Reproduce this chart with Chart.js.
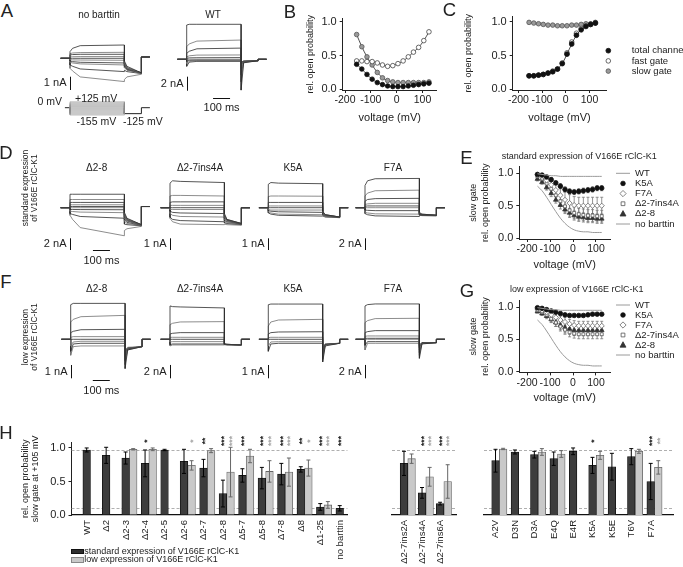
<!DOCTYPE html>
<html>
<head>
<meta charset="utf-8">
<script src="https://cdn.jsdelivr.net/npm/chart.js@4.4.1/dist/chart.umd.min.js"></script>
<style>
  body { margin: 0; background: #fff; }
  #fig { position: relative; width: 683px; height: 567px; overflow: hidden;
         font-family: "Liberation Sans", Arial, sans-serif; color: #222; }
  #fig canvas { position: absolute; }
  .t { position: absolute; white-space: nowrap; line-height: 1; }
  .key { position: absolute; }
</style>
</head>
<body>
<div id="fig"></div>
<script>
// ---------- data ----------
const voltages = [-155, -135, -115, -95, -75, -55, -35, -15, 5, 25, 45, 65, 85, 105, 125];
const voltTicks = [-200, -100, 0, 100];
const probTicks = [0, 0.5, 1];

// B: no barttin
const bTotal = [0.37, 0.30, 0.22, 0.15, 0.10, 0.07, 0.05, 0.04, 0.04, 0.04, 0.05, 0.06, 0.07, 0.08, 0.09];
const bFast  = [0.42, 0.42, 0.41, 0.41, 0.39, 0.36, 0.34, 0.35, 0.38, 0.42, 0.48, 0.55, 0.62, 0.72, 0.85];
const bSlow  = [0.81, 0.63, 0.48, 0.36, 0.25, 0.17, 0.13, 0.11, 0.10, 0.10, 0.10, 0.10, 0.10, 0.10, 0.11];
// C: WT
const cTotal = [0.20, 0.20, 0.21, 0.22, 0.24, 0.26, 0.30, 0.38, 0.52, 0.67, 0.80, 0.88, 0.93, 0.96, 0.98];
const cFast  = [0.20, 0.20, 0.21, 0.22, 0.24, 0.27, 0.30, 0.39, 0.54, 0.70, 0.83, 0.90, 0.94, 0.96, 0.98];
const cSlow  = [0.99, 0.98, 0.97, 0.96, 0.95, 0.95, 0.94, 0.94, 0.94, 0.95, 0.95, 0.96, 0.97, 0.97, 0.99];

// E/G reference curves (slow gate)
const wtSlow        = [0.99, 0.98, 0.97, 0.96, 0.96, 0.95, 0.95, 0.95, 0.95, 0.95, 0.95, 0.95, 0.95, 0.95, 0.95];
const noBarttinSlow = [0.80, 0.73, 0.63, 0.52, 0.41, 0.31, 0.23, 0.17, 0.13, 0.11, 0.10, 0.10, 0.09, 0.09, 0.09];
// E: standard expression
const eK5A   = [0.98, 0.97, 0.94, 0.90, 0.85, 0.80, 0.75, 0.72, 0.71, 0.72, 0.73, 0.74, 0.75, 0.77, 0.77];
const eF7A   = [0.97, 0.94, 0.89, 0.82, 0.74, 0.66, 0.59, 0.54, 0.51, 0.50, 0.50, 0.50, 0.50, 0.50, 0.50];
const eIns4A = [0.95, 0.91, 0.84, 0.76, 0.66, 0.57, 0.49, 0.43, 0.39, 0.37, 0.36, 0.35, 0.35, 0.34, 0.34];
const eD28   = [0.91, 0.86, 0.78, 0.69, 0.59, 0.51, 0.44, 0.39, 0.35, 0.33, 0.32, 0.31, 0.31, 0.30, 0.30];
const eK5Asd   = [0.02, 0.02, 0.03, 0.03, 0.03, 0.04, 0.04, 0.04, 0.04, 0.04, 0.04, 0.04, 0.04, 0.04, 0.04];
const eF7Asd   = [0.03, 0.04, 0.06, 0.08, 0.10, 0.11, 0.12, 0.13, 0.13, 0.13, 0.13, 0.13, 0.13, 0.13, 0.13];
const eIns4Asd = [0.03, 0.04, 0.05, 0.06, 0.07, 0.08, 0.09, 0.09, 0.09, 0.09, 0.09, 0.09, 0.09, 0.09, 0.09];
const eD28sd   = [0.03, 0.03, 0.04, 0.05, 0.05, 0.06, 0.06, 0.07, 0.07, 0.07, 0.07, 0.07, 0.07, 0.07, 0.07];
// G: low expression
const gK5A   = [0.99, 0.98, 0.96, 0.94, 0.92, 0.90, 0.88, 0.87, 0.87, 0.87, 0.87, 0.88, 0.89, 0.89, 0.89];
const gF7A   = [0.97, 0.95, 0.92, 0.88, 0.84, 0.80, 0.77, 0.74, 0.72, 0.71, 0.71, 0.71, 0.71, 0.71, 0.71];
const gIns4A = [0.95, 0.92, 0.88, 0.82, 0.76, 0.70, 0.65, 0.61, 0.59, 0.58, 0.58, 0.58, 0.58, 0.58, 0.58];
const gD28   = [0.93, 0.90, 0.86, 0.81, 0.76, 0.72, 0.68, 0.66, 0.64, 0.64, 0.64, 0.64, 0.64, 0.64, 0.64];
const gK5Asd   = [0.01, 0.01, 0.02, 0.02, 0.02, 0.02, 0.02, 0.02, 0.02, 0.02, 0.02, 0.02, 0.02, 0.02, 0.02];
const gF7Asd   = [0.02, 0.03, 0.04, 0.05, 0.06, 0.06, 0.07, 0.07, 0.07, 0.07, 0.07, 0.07, 0.07, 0.07, 0.07];
const gIns4Asd = [0.02, 0.03, 0.04, 0.05, 0.06, 0.07, 0.07, 0.07, 0.07, 0.07, 0.07, 0.07, 0.07, 0.07, 0.07];
const gD28sd   = [0.02, 0.03, 0.04, 0.05, 0.06, 0.07, 0.08, 0.08, 0.08, 0.08, 0.08, 0.08, 0.08, 0.08, 0.08];

// H: slow gate open probability at +105 mV
const hLeftCats = ['WT', '\u03942', '\u03942-3', '\u03942-4', '\u03942-5', '\u03942-6', '\u03942-7', '\u03942-8',
                   '\u03945-7', '\u03945-8', '\u03947-8', '\u03948', '\u03941-25', 'no barttin'];
const hLeftStd    = [0.97, 0.89, 0.85, 0.77, 0.97, 0.80, 0.70, 0.32, 0.59, 0.55, 0.61, 0.68, 0.12, 0.10];
const hLeftStdSD  = [0.03, 0.12, 0.09, 0.20, 0.01, 0.18, 0.13, 0.20, 0.10, 0.16, 0.16, 0.04, 0.05, 0.04];
const hLeftLow    = [null, null, 0.98, 0.98, null, 0.74, 0.96, 0.64, 0.88, 0.65, 0.64, 0.70, 0.15, null];
const hLeftLowSD  = [null, null, 0.01, 0.02, null, 0.07, 0.03, 0.37, 0.10, 0.16, 0.21, 0.12, 0.05, null];
const hLeftStdStars = ['', '', '', '*', '', '', '**', '***', '***', '***', '***', '**', '***', '***'];
const hLeftLowStars = ['', '', '', '', '', '*', '', '***', '', '***', '***', '*', '***', ''];

const hMidCats = ['\u03942-7ins2A', '\u03942-7ins4A', '\u03942-7ins6A'];
const hMidStd    = [0.77, 0.33, 0.17];
const hMidStdSD  = [0.18, 0.08, 0.02];
const hMidLow    = [0.84, 0.57, 0.50];
const hMidLowSD  = [0.07, 0.14, 0.25];
const hMidStdStars = ['', '***', '***'];
const hMidLowStars = ['', '***', '***'];

const hRightCats = ['A2V', 'D3N', 'D3A', 'E4Q', 'E4R', 'K5A', 'K5E', 'T6V', 'F7A'];
const hRightStd    = [0.81, 0.94, 0.90, 0.84, 0.95, 0.74, 0.72, 0.87, 0.50];
const hRightStdSD  = [0.17, 0.03, 0.05, 0.10, 0.05, 0.12, 0.20, 0.12, 0.27];
const hRightLow    = [0.985, null, 0.94, 0.91, null, 0.89, null, 0.95, 0.71];
const hRightLowSD  = [0.01, null, 0.05, 0.05, null, 0.06, null, 0.03, 0.10];
const hRightStdStars = ['', '', '', '', '', '*', '', '', '***'];
const hRightLowStars = ['', '', '', '', '', '', '', '', '**'];
const refLines = [0.97, 0.1];

// current traces: [I at pulse times] and [I at tail times], nA
const pulseTimes = [0, 15, 60, 320];
const tailTimes = [320, 335, 420];
const preTime = -55, postTime = 470;
const protoTail = -125;

const noBarttinPulse = [[0.5, 0.75, 0.95, 1.0], [0.35, 0.4, 0.43, 0.45], [0.25, 0.28, 0.3, 0.3], [0.1, 0.12, 0.13, 0.13],
  [0, 0, 0, 0], [-0.1, -0.12, -0.13, -0.15], [-0.2, -0.25, -0.3, -0.35], [-0.3, -0.35, -0.42, -0.5],
  [-0.5, -0.6, -0.8, -1.0], [-0.75, -0.95, -1.4, -1.75]];
const noBarttinTail = [[-0.2, -0.6, -1.1], [-0.3, -0.7, -1.1], [-0.35, -0.7, -1.1], [-0.4, -0.75, -1.1], [-0.45, -0.8, -1.1],
  [-0.5, -0.8, -1.1], [-0.6, -0.85, -1.1], [-0.7, -0.9, -1.15], [-0.9, -1.0, -1.15], [-1.6, -1.4, -1.2]];
const wtPulse = [[4.9, 5.0, 5.0, 5.0], [1.8, 2.2, 2.6, 2.75], [0.85, 1.15, 1.5, 1.6], [0.35, 0.5, 0.6, 0.62],
  [0.15, 0.2, 0.22, 0.24], [0, 0, 0, 0], [-0.3, -0.15, -0.1, -0.1], [-0.6, -0.3, -0.2, -0.2], [-1.0, -0.4, -0.3, -0.3]];
const wtTail = [[-4.4, -0.5, -0.2], [-3.2, -0.45, -0.2], [-2.2, -0.4, -0.2], [-1.4, -0.35, -0.2], [-0.9, -0.3, -0.2],
  [-0.6, -0.3, -0.2], [-0.5, -0.3, -0.2], [-0.4, -0.25, -0.2], [-0.4, -0.25, -0.2]];

const d28StdPulse = [[2.3, 2.3, 2.3, 2.3], [1.4, 1.4, 1.4, 1.4], [0.9, 0.9, 0.9, 0.9], [0.5, 0.5, 0.5, 0.5], [0.2, 0.2, 0.2, 0.2],
  [0, 0, 0, 0], [-0.3, -0.3, -0.32, -0.35], [-0.6, -0.65, -0.75, -0.85], [-1.0, -1.15, -1.5, -1.8], [-1.3, -2.0, -3.4, -4.8]];
const d28StdTail = [[-0.8, -1.8, -2.9], [-1.0, -1.9, -2.9], [-1.2, -2.0, -2.9], [-1.4, -2.1, -2.95], [-1.6, -2.2, -2.95],
  [-1.8, -2.3, -3.0], [-2.0, -2.5, -3.0], [-2.3, -2.7, -3.05], [-2.8, -2.9, -3.1], [-3.9, -3.6, -3.2]];
const ins4AStdPulse = [[2.1, 2.3, 2.25, 2.15], [1.0, 1.05, 1.05, 1.0], [0.45, 0.5, 0.5, 0.5], [0.2, 0.2, 0.2, 0.2], [0, 0, 0, 0],
  [-0.15, -0.15, -0.15, -0.15], [-0.3, -0.4, -0.45, -0.5], [-0.5, -0.65, -0.75, -0.8], [-0.8, -1.0, -1.1, -1.2], [-0.9, -1.2, -1.4, -1.45]];
const ins4AStdTail = [[-0.5, -1.0, -1.35], [-0.6, -1.0, -1.35], [-0.7, -1.05, -1.35], [-0.8, -1.1, -1.35], [-0.9, -1.1, -1.4],
  [-1.0, -1.2, -1.4], [-1.1, -1.2, -1.4], [-1.2, -1.3, -1.45], [-1.3, -1.35, -1.45], [-1.4, -1.45, -1.5]];
const k5aStdPulse = [[2.0, 2.15, 2.1, 2.05], [0.95, 1.0, 1.0, 0.98], [0.45, 0.45, 0.45, 0.45], [0.15, 0.15, 0.15, 0.15], [0, 0, 0, 0],
  [-0.15, -0.2, -0.2, -0.2], [-0.25, -0.3, -0.35, -0.4], [-0.35, -0.45, -0.55, -0.6], [-0.45, -0.55, -0.65, -0.72]];
const k5aStdTail = [[-0.3, -0.6, -0.8], [-0.35, -0.6, -0.8], [-0.4, -0.6, -0.8], [-0.45, -0.65, -0.8], [-0.5, -0.65, -0.8],
  [-0.55, -0.7, -0.8], [-0.6, -0.7, -0.82], [-0.65, -0.75, -0.85], [-0.7, -0.8, -0.85]];
const f7aStdPulse = [[3.8, 4.6, 4.95, 5.0], [2.0, 2.5, 2.9, 3.0], [1.1, 1.4, 1.55, 1.6], [0.55, 0.65, 0.75, 0.75], [0.25, 0.3, 0.3, 0.3],
  [0, 0, 0, 0], [-0.4, -0.45, -0.5, -0.5], [-0.8, -0.9, -1.05, -1.1], [-1.0, -1.2, -1.4, -1.5]];
const f7aStdTail = [[-0.8, -1.1, -1.3], [-0.9, -1.1, -1.3], [-1.0, -1.2, -1.3], [-1.0, -1.2, -1.3], [-1.1, -1.2, -1.3],
  [-1.1, -1.2, -1.3], [-1.2, -1.25, -1.3], [-1.25, -1.3, -1.35], [-1.3, -1.35, -1.4]];

const d28LowPulse = [[2.6, 2.7, 2.7, 2.7], [1.3, 1.5, 1.7, 1.8], [0.5, 0.6, 0.72, 0.75], [0.15, 0.2, 0.2, 0.2], [0, 0, 0, 0],
  [-0.5, -0.2, -0.15, -0.15], [-0.9, -0.35, -0.3, -0.3], [-1.2, -0.55, -0.5, -0.5]];
const d28LowTail = [[-2.2, -0.8, -0.55], [-1.9, -0.8, -0.55], [-1.6, -0.75, -0.55], [-1.3, -0.7, -0.55], [-1.1, -0.7, -0.55],
  [-1.0, -0.7, -0.55], [-0.9, -0.65, -0.55], [-0.8, -0.6, -0.55]];
const ins4ALowPulse = [[5.0, 4.9, 4.85, 4.7], [2.2, 2.4, 2.6, 2.65], [0.8, 0.9, 1.0, 1.0], [0.3, 0.3, 0.3, 0.3], [0, 0, 0, 0],
  [-0.4, -0.35, -0.35, -0.35], [-0.8, -0.7, -0.7, -0.7], [-1.0, -0.85, -0.85, -0.85]];
const ins4ALowTail = [[-0.7, -0.75, -0.85], [-0.7, -0.75, -0.85], [-0.7, -0.75, -0.85], [-0.7, -0.8, -0.85], [-0.75, -0.8, -0.85],
  [-0.75, -0.8, -0.85], [-0.8, -0.8, -0.85], [-0.8, -0.85, -0.85]];
const k5aLowPulse = [[2.6, 2.65, 2.65, 2.65], [1.0, 1.3, 1.45, 1.5], [0.4, 0.5, 0.55, 0.57], [0.12, 0.15, 0.15, 0.15], [0, 0, 0, 0],
  [-0.5, -0.2, -0.18, -0.18], [-0.9, -0.35, -0.3, -0.3]];
const k5aLowTail = [[-1.7, -0.5, -0.3], [-1.5, -0.45, -0.3], [-1.3, -0.4, -0.3], [-1.1, -0.4, -0.3], [-0.9, -0.4, -0.3],
  [-0.8, -0.35, -0.3], [-0.7, -0.35, -0.3]];
const f7aLowPulse = [[5.0, 5.2, 5.3, 5.3], [2.5, 2.8, 3.1, 3.15], [1.0, 1.15, 1.3, 1.3], [0.45, 0.5, 0.5, 0.5], [0.15, 0.15, 0.15, 0.15],
  [0, 0, 0, 0], [-0.9, -0.35, -0.35, -0.35], [-1.6, -0.6, -0.6, -0.6]];
const f7aLowTail = [[-2.85, -0.7, -0.5], [-2.4, -0.65, -0.5], [-2.0, -0.6, -0.5], [-1.6, -0.6, -0.5], [-1.3, -0.55, -0.5],
  [-1.1, -0.55, -0.5], [-0.9, -0.5, -0.5], [-0.8, -0.5, -0.5]];

// ---------- setup ----------
const FONT = '"Liberation Sans", Arial, sans-serif';
Chart.defaults.font.family = FONT;
Chart.defaults.font.size = 11;
Chart.defaults.color = '#222';
Chart.defaults.animation = false;
Chart.defaults.responsive = false;
Chart.defaults.events = [];
Chart.defaults.plugins.legend.display = false;
Chart.defaults.plugins.tooltip.enabled = false;

const fig = document.getElementById('fig');

function addCanvas(x, y, w, h) {
  const c = document.createElement('canvas');
  c.width = w; c.height = h;
  c.style.left = x + 'px'; c.style.top = y + 'px';
  c.style.width = w + 'px'; c.style.height = h + 'px';
  fig.appendChild(c);
  return c;
}

function label(str, x, y, size, align, more) {
  const d = document.createElement('div');
  d.className = 't';
  d.innerHTML = str;
  d.style.fontSize = size + 'px';
  d.style.left = x + 'px';
  d.style.top = y + 'px';
  const tx = align === 'left' ? '0' : align === 'right' ? '-100%' : '-50%';
  d.style.transform = 'translate(' + tx + ',-50%)' + (more || '');
  fig.appendChild(d);
  return d;
}

function vlabel(lines, x, y, size, lh) {
  const d = label(lines.join('<br>'), x, y, size, 'center', ' rotate(-90deg)');
  d.style.textAlign = 'center';
  d.style.lineHeight = lh + 'px';
}

function drawMarker(ctx, style, x, y, r, fill, stroke) {
  ctx.beginPath();
  if (style === 'rect') ctx.rect(x - r * 0.9, y - r * 0.9, r * 1.8, r * 1.8);
  else if (style === 'rectRot') { ctx.moveTo(x, y - r * 1.2); ctx.lineTo(x + r * 1.2, y); ctx.lineTo(x, y + r * 1.2); ctx.lineTo(x - r * 1.2, y); ctx.closePath(); }
  else if (style === 'triangle') { ctx.moveTo(x, y - r * 1.2); ctx.lineTo(x + r * 1.1, y + r * 0.8); ctx.lineTo(x - r * 1.1, y + r * 0.8); ctx.closePath(); }
  else ctx.arc(x, y, r, 0, Math.PI * 2);
  ctx.fillStyle = fill; ctx.fill();
  ctx.strokeStyle = stroke; ctx.lineWidth = 0.8; ctx.stroke();
}

// ---------- current traces ----------
const K = 0.17; // px per ms

function scaleBars(p, bx, by) {
  return {
    id: 'scalebars',
    afterDraw(chart) {
      const { ctx, scales: { x, y } } = chart;
      ctx.save();
      ctx.strokeStyle = '#111'; ctx.lineWidth = 1; ctx.fillStyle = '#222';
      ctx.font = '11px ' + FONT;
      if (p.bar) {
        const px = Math.round(x.getPixelForValue(0)) + 0.5;
        const len = y.getPixelForValue(0) - y.getPixelForValue(p.bar.nA);
        const yb = p.bar.bottom - by;
        ctx.beginPath(); ctx.moveTo(px, yb); ctx.lineTo(px, yb - len); ctx.stroke();
        ctx.textAlign = 'right'; ctx.textBaseline = 'middle';
        ctx.fillText(p.bar.text, px - 4, yb - len / 2);
      }
      if (p.tbar) {
        const x1 = x.getPixelForValue(p.tbar.t0), x2 = x.getPixelForValue(p.tbar.t0 + 100);
        const yt = Math.round(p.tbar.y - by) + 0.5;
        ctx.beginPath(); ctx.moveTo(x1, yt); ctx.lineTo(x2, yt); ctx.stroke();
        ctx.textAlign = 'center'; ctx.textBaseline = 'middle';
        ctx.fillText('100 ms', (x1 + x2) / 2, yt + p.tbar.dy);
      }
      ctx.restore();
    }
  };
}

function tracePanel(p) {
  const [bx, by, bw, bh] = p.box;
  const c = addCanvas(bx, by, bw, bh);
  const datasets = p.pulse.map((sw, i) => {
    const tl = p.tail[i];
    const pts = [{ x: preTime, y: 0 }, { x: 0, y: 0 }];
    pulseTimes.forEach((t, j) => pts.push({ x: t, y: sw[j] }));
    tailTimes.forEach((t, j) => pts.push({ x: t, y: tl[j] }));
    pts.push({ x: tailTimes[tailTimes.length - 1], y: p.post }, { x: postTime, y: p.post });
    return { data: pts, borderColor: i % 2 ? '#707070' : '#2b2b2b', borderWidth: 0.8, pointRadius: 0, tension: 0 };
  });
  new Chart(c, {
    type: 'line',
    data: { datasets },
    options: {
      layout: { padding: 0 },
      scales: {
        x: { type: 'linear', display: false, min: (bx - p.t0) / K, max: (bx + bw - p.t0) / K },
        y: { type: 'linear', display: false, min: (p.base - (by + bh)) / p.ppu, max: (p.base - by) / p.ppu }
      }
    },
    plugins: [scaleBars(p, bx, by)]
  });
}

const tracePanels = [
  { box: [35, 25, 125, 72], t0: 70, base: 58.3, ppu: 13.3, pulse: noBarttinPulse, tail: noBarttinTail, post: 0.1,
    bar: { nA: 1, bottom: 90, text: '1 nA' } },
  { box: [150, 15, 125, 100], t0: 186.7, base: 59.3, ppu: 7.0, pulse: wtPulse, tail: wtTail, post: 0,
    bar: { nA: 2, bottom: 90.7, text: '2 nA' }, tbar: { t0: 155, y: 98.3, dy: 9 } },
  { box: [30, 172, 125, 95], t0: 70, base: 207.7, ppu: 5.85, pulse: d28StdPulse, tail: d28StdTail, post: 0.2,
    bar: { nA: 2, bottom: 250, text: '2 nA' }, tbar: { t0: 135, y: 250, dy: 10 } },
  { box: [135, 172, 120, 95], t0: 170, base: 207.7, ppu: 11.7, pulse: ins4AStdPulse, tail: ins4AStdTail, post: 0,
    bar: { nA: 1, bottom: 250, text: '1 nA' } },
  { box: [232, 172, 120, 95], t0: 268.3, base: 207.7, ppu: 11.7, pulse: k5aStdPulse, tail: k5aStdTail, post: 0,
    bar: { nA: 1, bottom: 250, text: '1 nA' } },
  { box: [328, 172, 125, 95], t0: 365, base: 207.7, ppu: 5.85, pulse: f7aStdPulse, tail: f7aStdTail, post: 0,
    bar: { nA: 2, bottom: 250, text: '2 nA' } },
  { box: [30, 297, 125, 100], t0: 70.7, base: 339.3, ppu: 13.3, pulse: d28LowPulse, tail: d28LowTail, post: 0,
    bar: { nA: 1, bottom: 378.3, text: '1 nA' }, tbar: { t0: 130, y: 380, dy: 10 } },
  { box: [135, 297, 120, 100], t0: 170, base: 339.3, ppu: 6.67, pulse: ins4ALowPulse, tail: ins4ALowTail, post: 0,
    bar: { nA: 2, bottom: 378.3, text: '2 nA' } },
  { box: [232, 297, 120, 100], t0: 268.3, base: 339.3, ppu: 13.3, pulse: k5aLowPulse, tail: k5aLowTail, post: 0,
    bar: { nA: 1, bottom: 378.3, text: '1 nA' } },
  { box: [328, 297, 125, 100], t0: 365, base: 339.3, ppu: 6.67, pulse: f7aLowPulse, tail: f7aLowTail, post: 0,
    bar: { nA: 2, bottom: 378.3, text: '2 nA' } }
];
tracePanels.forEach(tracePanel);

// voltage protocol
(function () {
  const bx = 60, by = 97, bw = 100, bh = 22, t0 = 70, base = 107.7, ppu = 0.0476;
  const c = addCanvas(bx, by, bw, bh);
  const datasets = voltages.map(v => ({
    data: [{ x: 0, y: 0 }, { x: 0, y: v }, { x: 320, y: v }, { x: 320, y: protoTail }],
    borderColor: '#8a8a8a', borderWidth: 0.5, pointRadius: 0
  }));
  datasets.push({ data: [{ x: -30, y: 0 }, { x: 0, y: 0 }], borderColor: '#222', borderWidth: 1, pointRadius: 0 });
  datasets.push({ data: [{ x: 320, y: protoTail }, { x: 420, y: protoTail }, { x: 420, y: 0 }, { x: 470, y: 0 }],
    borderColor: '#222', borderWidth: 1, pointRadius: 0 });
  new Chart(c, {
    type: 'line', data: { datasets },
    options: {
      layout: { padding: 0 },
      scales: {
        x: { type: 'linear', display: false, min: (bx - t0) / K, max: (bx + bw - t0) / K },
        y: { type: 'linear', display: false, min: (base - (by + bh)) / ppu, max: (base - by) / ppu }
      }
    }
  });
})();

// ---------- probability plots ----------
const xy = arr => arr.map((v, i) => ({ x: voltages[i], y: v }));

const errBars = {
  id: 'errbars',
  beforeDatasetsDraw(chart) {
    const { ctx, scales: { x, y } } = chart;
    ctx.save();
    chart.data.datasets.forEach(ds => {
      if (!ds.errors) return;
      ctx.strokeStyle = '#777'; ctx.lineWidth = 0.8;
      ds.data.forEach((p, j) => {
        const e = ds.errors[j];
        if (!e) return;
        const px = x.getPixelForValue(p.x), y1 = y.getPixelForValue(p.y + e), y2 = y.getPixelForValue(p.y - e);
        ctx.beginPath();
        ctx.moveTo(px, y1); ctx.lineTo(px, y2);
        ctx.moveTo(px - 1.5, y1); ctx.lineTo(px + 1.5, y1);
        ctx.moveTo(px - 1.5, y2); ctx.lineTo(px + 1.5, y2);
        ctx.stroke();
      });
    });
    ctx.restore();
  }
};

function keyPlugin(bx, by, mx, y0, dy, tx, items) {
  return {
    id: 'key',
    afterDraw(chart) {
      const ctx = chart.ctx;
      ctx.save();
      ctx.font = '9.5px ' + FONT;
      ctx.textBaseline = 'middle'; ctx.textAlign = 'left';
      items.forEach((di, k) => {
        const ds = chart.data.datasets[di];
        const cx = mx - bx, cy = y0 + k * dy - by;
        if (!ds.pointRadius) {
          ctx.strokeStyle = ds.borderColor; ctx.lineWidth = ds.borderWidth;
          ctx.beginPath(); ctx.moveTo(cx - 7, cy); ctx.lineTo(cx + 7, cy); ctx.stroke();
        } else {
          drawMarker(ctx, ds.pointStyle, cx, cy, ds.pointRadius, ds.pointBackgroundColor, ds.pointBorderColor);
        }
        ctx.fillStyle = '#222';
        ctx.fillText(ds.label, tx - bx, cy);
      });
      ctx.restore();
    }
  };
}

function probChart(box, plot, xr, yr, yTitle, yPad, datasets, plugins) {
  const [bx, by, bw, bh] = box;
  const c = addCanvas(bx, by, bw, bh);
  const grid = { display: true, drawOnChartArea: false, drawTicks: true, tickLength: 3, color: '#222', lineWidth: 1 };
  const border = { display: true, color: '#222', width: 1 };
  return new Chart(c, {
    type: 'line',
    data: { datasets },
    options: {
      layout: { padding: { top: plot.t - by, right: bx + bw - plot.r, left: 0, bottom: 0 } },
      scales: {
        x: {
          type: 'linear', min: xr[0], max: xr[1], grid, border,
          afterBuildTicks: s => { s.ticks = voltTicks.map(v => ({ value: v })); },
          afterFit: s => { s.height = by + bh - plot.b; },
          ticks: { font: { size: 10.5 }, color: '#222', padding: 1, maxRotation: 0, autoSkip: false },
          title: { display: true, text: 'voltage (mV)', font: { size: 11 }, color: '#222', padding: 0 }
        },
        y: {
          type: 'linear', min: yr[0], max: yr[1], grid, border,
          afterBuildTicks: s => { s.ticks = probTicks.map(v => ({ value: v })); },
          afterFit: s => { s.width = plot.l - bx; },
          ticks: { font: { size: 11 }, color: '#222', padding: 3, autoSkip: false, callback: v => v.toFixed(1) },
          title: { display: true, text: yTitle, font: { size: 9, lineHeight: 1.3 }, color: '#222', padding: { top: yPad, bottom: 0 } }
        }
      }
    },
    plugins: plugins || []
  });
}

const lineSet = (label, data, color, width) => ({ label, data: xy(data), borderColor: color, borderWidth: width,
  pointRadius: 0, tension: 0.4 });
const pointSet = (label, data, style, r, fill, stroke, line, errors) => ({ label, data: xy(data), pointStyle: style,
  pointRadius: r, pointBackgroundColor: fill, pointBorderColor: stroke, pointBorderWidth: 0.8,
  borderColor: '#222', borderWidth: 0.8, showLine: line, tension: 0.35, errors });

// B
probChart([298, 8, 146, 117], { l: 342.7, t: 18.3, r: 436.7, b: 90 }, [-209, 155], [-0.01, 1.05],
  'rel. open probability', 7, [
    pointSet('total channel', bTotal, 'circle', 2.3, '#111', '#111', true),
    pointSet('fast gate', bFast, 'circle', 2.3, '#fff', '#444', true),
    pointSet('slow gate', bSlow, 'circle', 2.3, '#9a9a9a', '#555', true)
  ]);

// C
probChart([460, 6, 223, 119], { l: 512.7, t: 16.3, r: 606.3, b: 90 }, [-224, 171], [-0.01, 1.08],
  'rel. open probability', 3, [
    pointSet('total channel', cTotal, 'circle', 2.4, '#111', '#111', true),
    pointSet('fast gate', cFast, 'circle', 2.3, '#fff', '#444', false),
    pointSet('slow gate', cSlow, 'circle', 2.3, '#9a9a9a', '#555', true)
  ], [keyPlugin(460, 6, 608.3, 50.7, 10.2, 631.7, [0, 1, 2])]);

// E
probChart([460, 157, 223, 115], { l: 519.3, t: 163.2, r: 610, b: 239 }, [-234, 161], [-0.01, 1.1],
  ['slow gate', 'rel. open probability'], 7.5, [
    lineSet('WT', wtSlow, '#9a9a9a', 1),
    pointSet('K5A', eK5A, 'circle', 2.3, '#111', '#111', false, eK5Asd),
    pointSet('F7A', eF7A, 'rectRot', 2.6, '#fff', '#666', false, eF7Asd),
    pointSet('\u03942-7ins4A', eIns4A, 'rect', 2.1, '#fff', '#555', false, eIns4Asd),
    pointSet('\u03942-8', eD28, 'triangle', 2.7, '#333', '#333', false, eD28sd),
    lineSet('no barttin', noBarttinSlow, '#9a9a9a', 1)
  ], [errBars, keyPlugin(460, 157, 623, 173.3, 10.14, 635, [0, 1, 2, 3, 4, 5])]);

// G
probChart([460, 291, 223, 114], { l: 519.3, t: 297.2, r: 610, b: 372.4 }, [-234, 161], [-0.01, 1.1],
  ['slow gate', 'rel. open probability'], 7.5, [
    lineSet('WT', wtSlow, '#9a9a9a', 1),
    pointSet('K5A', gK5A, 'circle', 2.3, '#111', '#111', false, gK5Asd),
    pointSet('F7A', gF7A, 'rectRot', 2.6, '#fff', '#666', false, gF7Asd),
    pointSet('\u03942-7ins4A', gIns4A, 'rect', 2.1, '#fff', '#555', false, gIns4Asd),
    pointSet('\u03942-8', gD28, 'triangle', 2.7, '#333', '#333', false, gD28sd),
    lineSet('no barttin', noBarttinSlow, '#9a9a9a', 1)
  ], [errBars, keyPlugin(460, 291, 623, 305, 10, 635, [0, 1, 2, 3, 4, 5])]);

// ---------- H bar charts ----------
function barExtras(by) {
  return {
    id: 'barextras',
    beforeDatasetsDraw(chart) {
      const { ctx, chartArea: a, scales: { y } } = chart;
      ctx.save();
      ctx.setLineDash([3, 2]); ctx.strokeStyle = '#9a9a9a'; ctx.lineWidth = 0.8;
      refLines.forEach(v => {
        const py = Math.round(y.getPixelForValue(v)) + 0.5;
        ctx.beginPath(); ctx.moveTo(a.left, py); ctx.lineTo(a.right, py); ctx.stroke();
      });
      ctx.restore();
    },
    afterDatasetsDraw(chart) {
      const { ctx, scales: { y } } = chart;
      ctx.save();
      chart.data.datasets.forEach((ds, i) => {
        const meta = chart.getDatasetMeta(i);
        meta.data.forEach((bar, j) => {
          const v = ds.data[j].y;
          if (v === null) return;
          const e = ds.errors[j];
          if (e) {
            const y1 = y.getPixelForValue(v + e), y2 = y.getPixelForValue(v - e);
            ctx.strokeStyle = ds.errColor; ctx.lineWidth = 1;
            ctx.beginPath();
            ctx.moveTo(bar.x, y1); ctx.lineTo(bar.x, y2);
            ctx.moveTo(bar.x - 2, y1); ctx.lineTo(bar.x + 2, y1);
            ctx.moveTo(bar.x - 2, y2); ctx.lineTo(bar.x + 2, y2);
            ctx.stroke();
          }
          const s = ds.stars[j];
          if (s) {
            ctx.save();
            ctx.translate(bar.x, 441 - by);
            ctx.rotate(-Math.PI / 2);
            ctx.font = 'bold 8.5px ' + FONT;
            ctx.fillStyle = ds.starColor;
            ctx.textAlign = 'center'; ctx.textBaseline = 'middle';
            ctx.fillText(s, 0, 2.2);
            ctx.restore();
          }
        });
      });
      ctx.restore();
    }
  };
}

function barChart(box, plot, cats, std, stdSD, low, lowSD, stdStars, lowStars, xr, showY) {
  const [bx, by, bw, bh] = box;
  const c = addCanvas(bx, by, bw, bh);
  new Chart(c, {
    type: 'bar',
    data: {
      datasets: [
        { label: 'standard expression of V166E rClC-K1', data: std.map((v, i) => ({ x: i, y: v })),
          backgroundColor: '#3d3d3d', borderColor: '#111', borderWidth: 0.8, barThickness: 7.6,
          errors: stdSD, stars: stdStars, errColor: '#000', starColor: '#222' },
        { label: 'low expression of V166E rClC-K1', data: low.map((v, i) => ({ x: i, y: v })),
          backgroundColor: '#c9c9c9', borderColor: '#666', borderWidth: 0.8, barThickness: 7.6,
          errors: lowSD, stars: lowStars, errColor: '#666', starColor: '#a8a8a8' }
      ]
    },
    options: {
      layout: { padding: { top: plot.t - by, right: bx + bw - plot.r, left: showY ? 0 : plot.l - bx, bottom: 0 } },
      scales: {
        x: {
          type: 'linear', offset: false, min: xr[0], max: xr[1],
          afterBuildTicks: s => { s.ticks = cats.map((c, i) => ({ value: i })); },
          afterFit: s => { s.height = by + bh - plot.b; },
          ticks: { callback: v => cats[v], autoSkip: false, minRotation: 90, maxRotation: 90, padding: 5, labelOffset: -3.5,
                   font: { size: 9.5 }, color: '#222' },
          grid: { display: false, drawTicks: false, tickLength: 0 },
          border: { display: true, color: '#111', width: 1.3 }
        },
        y: {
          display: showY, min: 0, max: 1.08,
          afterBuildTicks: s => { s.ticks = probTicks.map(v => ({ value: v })); },
          afterFit: s => { s.width = plot.l - bx; },
          grid: { display: true, drawOnChartArea: false, drawTicks: true, tickLength: 3, color: '#222' },
          border: { display: true, color: '#222', width: 1 },
          ticks: { font: { size: 11 }, color: '#222', padding: 3, callback: v => v.toFixed(1) },
          title: { display: true, text: ['rel. open probability', 'slow gate at +105 mV'],
                   font: { size: 9, lineHeight: 1.12 }, color: '#222', padding: { top: 12, bottom: 0 } }
        }
      }
    },
    plugins: [barExtras(by)]
  });
}

barChart([8, 428, 352, 139], { l: 71.5, t: 442.6, r: 355, b: 515 }, hLeftCats, hLeftStd, hLeftStdSD, hLeftLow, hLeftLowSD,
  hLeftStdStars, hLeftLowStars, [-0.975, 13.2], true);
barChart([378, 428, 84, 139], { l: 385, t: 442.6, r: 456.7, b: 515 }, hMidCats, hMidStd, hMidStdSD, hMidLow, hMidLowSD,
  hMidStdStars, hMidLowStars, [-0.875, 2.71], false);
barChart([470, 428, 213, 139], { l: 477, t: 442.6, r: 673.3, b: 515 }, hRightCats, hRightStd, hRightStdSD, hRightLow, hRightLowSD,
  hRightStdStars, hRightLowStars, [-0.79, 8.97], false);

// ---------- text ----------
[['A', 7, 10.5], ['B', 290, 11.7], ['C', 449.5, 9.5], ['D', 6, 153.3], ['E', 466.5, 158.3],
 ['F', 6, 282], ['G', 467, 290.5], ['H', 6, 433]].forEach(([s, x, y]) => label(s, x, y, 18.5, 'center'));

label('no barttin', 99, 15, 10, 'center');
label('WT', 213, 15, 10, 'center');
[['\u03942-8', 96.7], ['\u03942-7ins4A', 200], ['K5A', 293], ['F7A', 393]].forEach(([s, x]) => {
  label(s, x, 168.3, 10, 'center');
  label(s, x, 289, 10, 'center');
});
label('0 mV', 62, 100.5, 10.5, 'right');
label('+125 mV', 75, 97.5, 10.5, 'left');
label('-155 mV', 76.5, 121, 10.5, 'left');
label('-125 mV', 123, 121, 10.5, 'left');

vlabel(['standard expression', 'of V166E rClC-K1'], 29.5, 188, 8.5, 8.6);
vlabel(['low expression', 'of V166E rClC-K1'], 29.5, 337, 8.5, 8.6);

label('standard expression of V166E rClC-K1', 501.7, 156, 9, 'left');
label('low expression of V166E rClC-K1', 510, 289, 9, 'left');

// H legend
function keyBox(x, y, fill, stroke) {
  const d = document.createElement('div');
  d.className = 'key';
  d.style.left = x + 'px'; d.style.top = y + 'px';
  d.style.width = '11px'; d.style.height = '3.5px';
  d.style.background = fill; d.style.border = '0.5px solid ' + stroke;
  fig.appendChild(d);
}
keyBox(71, 548.5, '#2e2e2e', '#111');
label('standard expression of V166E rClC-K1', 84.3, 550.7, 9, 'left');
keyBox(71, 557, '#c9c9c9', '#888');
label('low expression of V166E rClC-K1', 84.3, 559.2, 9, 'left');
</script>
</body>
</html>
